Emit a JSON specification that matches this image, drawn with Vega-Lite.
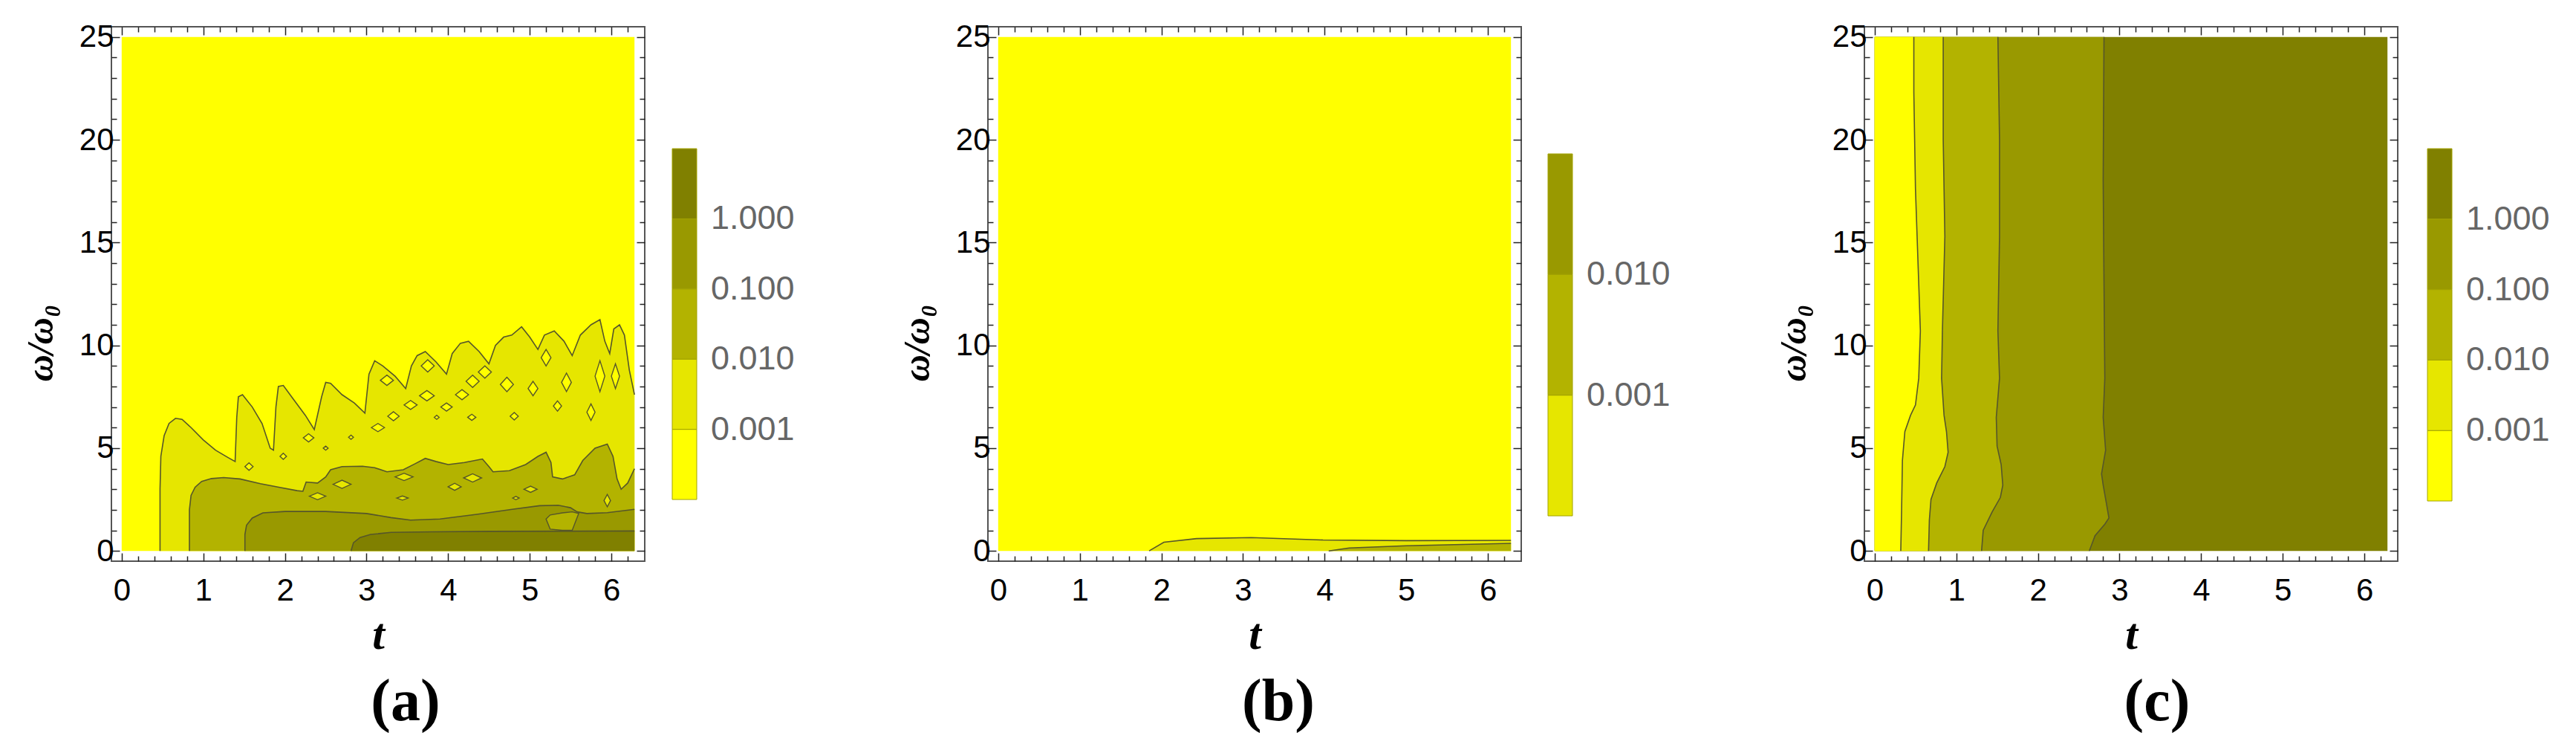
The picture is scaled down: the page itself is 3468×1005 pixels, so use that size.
{
  "$schema": "https://vega.github.io/schema/vega-lite/v6.json",
  "background": "white",
  "padding": {"left": 29, "top": 27, "right": 0, "bottom": 0},
  "spacing": 462,
  "bounds": "flush",
  "config": {
    "view": {"stroke": "#555555", "strokeWidth": 2},
    "axis": {"grid": false, "domain": false, "tickColor": "#222222", "tickWidth": 1.5, "labelOverlap": false, "labelFlush": false, "labelBound": false},
    "legend": {"labelLimit": 400}
  },
  "resolve": {"scale": {"color": "independent"}, "legend": {"color": "independent"}},
  "datasets": {
    "a": [
      {"k":"bg","t":0,"t2":6.2832,"w":25,"w2":0,"lv":-3.5},
      {"k":"r2","i":0,"t":0.47,"w":0,"lv":-2.5},{"k":"r2","i":1,"t":0.47,"w":3.0,"lv":-2.5},{"k":"r2","i":2,"t":0.48,"w":4.6,"lv":-2.5},{"k":"r2","i":3,"t":0.52,"w":5.6,"lv":-2.5},{"k":"r2","i":4,"t":0.58,"w":6.2,"lv":-2.5},{"k":"r2","i":5,"t":0.66,"w":6.45,"lv":-2.5},{"k":"r2","i":6,"t":0.74,"w":6.4,"lv":-2.5},{"k":"r2","i":7,"t":0.85,"w":6.0,"lv":-2.5},{"k":"r2","i":8,"t":1.0,"w":5.4,"lv":-2.5},{"k":"r2","i":9,"t":1.15,"w":4.9,"lv":-2.5},{"k":"r2","i":10,"t":1.3,"w":4.55,"lv":-2.5},{"k":"r2","i":11,"t":1.39,"w":4.35,"lv":-2.5},{"k":"r2","i":12,"t":1.41,"w":6.5,"lv":-2.5},{"k":"r2","i":13,"t":1.43,"w":7.5,"lv":-2.5},{"k":"r2","i":14,"t":1.48,"w":7.6,"lv":-2.5},{"k":"r2","i":15,"t":1.6,"w":7.0,"lv":-2.5},{"k":"r2","i":16,"t":1.72,"w":6.2,"lv":-2.5},{"k":"r2","i":17,"t":1.82,"w":5.0,"lv":-2.5},{"k":"r2","i":18,"t":1.86,"w":4.9,"lv":-2.5},{"k":"r2","i":19,"t":1.89,"w":7.0,"lv":-2.5},{"k":"r2","i":20,"t":1.92,"w":8.0,"lv":-2.5},{"k":"r2","i":21,"t":1.98,"w":8.05,"lv":-2.5},{"k":"r2","i":22,"t":2.1,"w":7.4,"lv":-2.5},{"k":"r2","i":23,"t":2.25,"w":6.6,"lv":-2.5},{"k":"r2","i":24,"t":2.36,"w":5.9,"lv":-2.5},{"k":"r2","i":25,"t":2.45,"w":7.5,"lv":-2.5},{"k":"r2","i":26,"t":2.5,"w":8.2,"lv":-2.5},{"k":"r2","i":27,"t":2.56,"w":8.15,"lv":-2.5},{"k":"r2","i":28,"t":2.7,"w":7.6,"lv":-2.5},{"k":"r2","i":29,"t":2.85,"w":7.2,"lv":-2.5},{"k":"r2","i":30,"t":2.98,"w":6.7,"lv":-2.5},{"k":"r2","i":31,"t":3.03,"w":8.6,"lv":-2.5},{"k":"r2","i":32,"t":3.1,"w":9.25,"lv":-2.5},{"k":"r2","i":33,"t":3.2,"w":9.0,"lv":-2.5},{"k":"r2","i":34,"t":3.35,"w":8.5,"lv":-2.5},{"k":"r2","i":35,"t":3.48,"w":7.9,"lv":-2.5},{"k":"r2","i":36,"t":3.55,"w":9.0,"lv":-2.5},{"k":"r2","i":37,"t":3.62,"w":9.5,"lv":-2.5},{"k":"r2","i":38,"t":3.72,"w":9.7,"lv":-2.5},{"k":"r2","i":39,"t":3.85,"w":9.2,"lv":-2.5},{"k":"r2","i":40,"t":3.98,"w":8.6,"lv":-2.5},{"k":"r2","i":41,"t":4.05,"w":9.6,"lv":-2.5},{"k":"r2","i":42,"t":4.15,"w":10.1,"lv":-2.5},{"k":"r2","i":43,"t":4.25,"w":10.2,"lv":-2.5},{"k":"r2","i":44,"t":4.38,"w":9.7,"lv":-2.5},{"k":"r2","i":45,"t":4.5,"w":9.1,"lv":-2.5},{"k":"r2","i":46,"t":4.58,"w":10.0,"lv":-2.5},{"k":"r2","i":47,"t":4.68,"w":10.4,"lv":-2.5},{"k":"r2","i":48,"t":4.78,"w":10.5,"lv":-2.5},{"k":"r2","i":49,"t":4.9,"w":10.9,"lv":-2.5},{"k":"r2","i":50,"t":5.0,"w":10.4,"lv":-2.5},{"k":"r2","i":51,"t":5.1,"w":9.8,"lv":-2.5},{"k":"r2","i":52,"t":5.18,"w":10.5,"lv":-2.5},{"k":"r2","i":53,"t":5.3,"w":10.7,"lv":-2.5},{"k":"r2","i":54,"t":5.42,"w":10.2,"lv":-2.5},{"k":"r2","i":55,"t":5.52,"w":9.5,"lv":-2.5},{"k":"r2","i":56,"t":5.62,"w":10.5,"lv":-2.5},{"k":"r2","i":57,"t":5.75,"w":11.0,"lv":-2.5},{"k":"r2","i":58,"t":5.86,"w":11.25,"lv":-2.5},{"k":"r2","i":59,"t":5.92,"w":10.2,"lv":-2.5},{"k":"r2","i":60,"t":5.98,"w":9.6,"lv":-2.5},{"k":"r2","i":61,"t":6.03,"w":10.8,"lv":-2.5},{"k":"r2","i":62,"t":6.1,"w":11.0,"lv":-2.5},{"k":"r2","i":63,"t":6.16,"w":10.5,"lv":-2.5},{"k":"r2","i":64,"t":6.22,"w":8.8,"lv":-2.5},{"k":"r2","i":65,"t":6.2832,"w":7.6,"lv":-2.5},
      {"k":"r3","i":0,"t":0.83,"w":0,"lv":-1.5},{"k":"r3","i":1,"t":0.83,"w":2.0,"lv":-1.5},{"k":"r3","i":2,"t":0.85,"w":2.7,"lv":-1.5},{"k":"r3","i":3,"t":0.9,"w":3.1,"lv":-1.5},{"k":"r3","i":4,"t":0.98,"w":3.38,"lv":-1.5},{"k":"r3","i":5,"t":1.1,"w":3.52,"lv":-1.5},{"k":"r3","i":6,"t":1.25,"w":3.57,"lv":-1.5},{"k":"r3","i":7,"t":1.45,"w":3.5,"lv":-1.5},{"k":"r3","i":8,"t":1.7,"w":3.27,"lv":-1.5},{"k":"r3","i":9,"t":1.95,"w":3.08,"lv":-1.5},{"k":"r3","i":10,"t":2.15,"w":2.93,"lv":-1.5},{"k":"r3","i":11,"t":2.22,"w":2.9,"lv":-1.5},{"k":"r3","i":12,"t":2.26,"w":3.35,"lv":-1.5},{"k":"r3","i":13,"t":2.4,"w":3.3,"lv":-1.5},{"k":"r3","i":14,"t":2.5,"w":3.6,"lv":-1.5},{"k":"r3","i":15,"t":2.56,"w":3.95,"lv":-1.5},{"k":"r3","i":16,"t":2.7,"w":4.1,"lv":-1.5},{"k":"r3","i":17,"t":2.95,"w":4.12,"lv":-1.5},{"k":"r3","i":18,"t":3.1,"w":4.05,"lv":-1.5},{"k":"r3","i":19,"t":3.25,"w":3.85,"lv":-1.5},{"k":"r3","i":20,"t":3.45,"w":3.95,"lv":-1.5},{"k":"r3","i":21,"t":3.6,"w":4.25,"lv":-1.5},{"k":"r3","i":22,"t":3.72,"w":4.5,"lv":-1.5},{"k":"r3","i":23,"t":3.85,"w":4.35,"lv":-1.5},{"k":"r3","i":24,"t":4.0,"w":4.2,"lv":-1.5},{"k":"r3","i":25,"t":4.2,"w":4.3,"lv":-1.5},{"k":"r3","i":26,"t":4.42,"w":4.47,"lv":-1.5},{"k":"r3","i":27,"t":4.5,"w":4.1,"lv":-1.5},{"k":"r3","i":28,"t":4.55,"w":3.85,"lv":-1.5},{"k":"r3","i":29,"t":4.75,"w":3.9,"lv":-1.5},{"k":"r3","i":30,"t":4.95,"w":4.2,"lv":-1.5},{"k":"r3","i":31,"t":5.1,"w":4.6,"lv":-1.5},{"k":"r3","i":32,"t":5.2,"w":4.8,"lv":-1.5},{"k":"r3","i":33,"t":5.26,"w":4.3,"lv":-1.5},{"k":"r3","i":34,"t":5.28,"w":3.6,"lv":-1.5},{"k":"r3","i":35,"t":5.4,"w":3.5,"lv":-1.5},{"k":"r3","i":36,"t":5.55,"w":3.7,"lv":-1.5},{"k":"r3","i":37,"t":5.65,"w":4.4,"lv":-1.5},{"k":"r3","i":38,"t":5.8,"w":5.0,"lv":-1.5},{"k":"r3","i":39,"t":5.95,"w":5.2,"lv":-1.5},{"k":"r3","i":40,"t":6.02,"w":4.6,"lv":-1.5},{"k":"r3","i":41,"t":6.07,"w":3.5,"lv":-1.5},{"k":"r3","i":42,"t":6.12,"w":3.0,"lv":-1.5},{"k":"r3","i":43,"t":6.2,"w":3.3,"lv":-1.5},{"k":"r3","i":44,"t":6.2832,"w":4.0,"lv":-1.5},
      {"k":"r4","i":0,"t":1.51,"w":0,"lv":-0.5},{"k":"r4","i":1,"t":1.51,"w":0.8,"lv":-0.5},{"k":"r4","i":2,"t":1.53,"w":1.25,"lv":-0.5},{"k":"r4","i":3,"t":1.6,"w":1.6,"lv":-0.5},{"k":"r4","i":4,"t":1.73,"w":1.85,"lv":-0.5},{"k":"r4","i":5,"t":2.0,"w":1.92,"lv":-0.5},{"k":"r4","i":6,"t":2.5,"w":1.92,"lv":-0.5},{"k":"r4","i":7,"t":3.0,"w":1.82,"lv":-0.5},{"k":"r4","i":8,"t":3.3,"w":1.62,"lv":-0.5},{"k":"r4","i":9,"t":3.54,"w":1.5,"lv":-0.5},{"k":"r4","i":10,"t":3.9,"w":1.55,"lv":-0.5},{"k":"r4","i":11,"t":4.35,"w":1.78,"lv":-0.5},{"k":"r4","i":12,"t":4.8,"w":2.03,"lv":-0.5},{"k":"r4","i":13,"t":5.12,"w":2.2,"lv":-0.5},{"k":"r4","i":14,"t":5.35,"w":2.22,"lv":-0.5},{"k":"r4","i":15,"t":5.5,"w":2.1,"lv":-0.5},{"k":"r4","i":16,"t":5.58,"w":1.9,"lv":-0.5},{"k":"r4","i":17,"t":5.7,"w":1.82,"lv":-0.5},{"k":"r4","i":18,"t":5.95,"w":1.86,"lv":-0.5},{"k":"r4","i":19,"t":6.2832,"w":2.02,"lv":-0.5},
      {"k":"r5","i":0,"t":2.81,"w":0,"lv":0.5},{"k":"r5","i":1,"t":2.84,"w":0.4,"lv":0.5},{"k":"r5","i":2,"t":2.92,"w":0.65,"lv":0.5},{"k":"r5","i":3,"t":3.05,"w":0.8,"lv":0.5},{"k":"r5","i":4,"t":3.3,"w":0.9,"lv":0.5},{"k":"r5","i":5,"t":3.8,"w":0.93,"lv":0.5},{"k":"r5","i":6,"t":4.5,"w":0.95,"lv":0.5},{"k":"r5","i":7,"t":5.5,"w":0.96,"lv":0.5},{"k":"r5","i":8,"t":6.2832,"w":0.97,"lv":0.5},
      {"k":"isl","id":"y1","i":0,"t":1.51,"w":4.1,"w2":4.1,"lv":-3.5},{"k":"isl","id":"y1","i":1,"t":1.56,"w":4.28,"w2":3.92,"lv":-3.5},{"k":"isl","id":"y1","i":2,"t":1.61,"w":4.1,"w2":4.1,"lv":-3.5},
      {"k":"isl","id":"y2","i":0,"t":1.94,"w":4.6,"w2":4.6,"lv":-3.5},{"k":"isl","id":"y2","i":1,"t":1.98,"w":4.75,"w2":4.45,"lv":-3.5},{"k":"isl","id":"y2","i":2,"t":2.02,"w":4.6,"w2":4.6,"lv":-3.5},
      {"k":"isl","id":"y3","i":0,"t":2.225,"w":5.5,"w2":5.5,"lv":-3.5},{"k":"isl","id":"y3","i":1,"t":2.29,"w":5.7,"w2":5.3,"lv":-3.5},{"k":"isl","id":"y3","i":2,"t":2.355,"w":5.5,"w2":5.5,"lv":-3.5},
      {"k":"isl","id":"y4","i":0,"t":3.06,"w":6.0,"w2":6.0,"lv":-3.5},{"k":"isl","id":"y4","i":1,"t":3.14,"w":6.2,"w2":5.8,"lv":-3.5},{"k":"isl","id":"y4","i":2,"t":3.22,"w":6.0,"w2":6.0,"lv":-3.5},
      {"k":"isl","id":"y5","i":0,"t":3.26,"w":6.55,"w2":6.55,"lv":-3.5},{"k":"isl","id":"y5","i":1,"t":3.33,"w":6.77,"w2":6.33,"lv":-3.5},{"k":"isl","id":"y5","i":2,"t":3.4,"w":6.55,"w2":6.55,"lv":-3.5},
      {"k":"isl","id":"y6","i":0,"t":3.46,"w":7.1,"w2":7.1,"lv":-3.5},{"k":"isl","id":"y6","i":1,"t":3.54,"w":7.32,"w2":6.88,"lv":-3.5},{"k":"isl","id":"y6","i":2,"t":3.62,"w":7.1,"w2":7.1,"lv":-3.5},
      {"k":"isl","id":"y7","i":0,"t":3.65,"w":7.55,"w2":7.55,"lv":-3.5},{"k":"isl","id":"y7","i":1,"t":3.74,"w":7.8,"w2":7.3,"lv":-3.5},{"k":"isl","id":"y7","i":2,"t":3.83,"w":7.55,"w2":7.55,"lv":-3.5},
      {"k":"isl","id":"y8","i":0,"t":3.91,"w":7.0,"w2":7.0,"lv":-3.5},{"k":"isl","id":"y8","i":1,"t":3.98,"w":7.2,"w2":6.8,"lv":-3.5},{"k":"isl","id":"y8","i":2,"t":4.05,"w":7.0,"w2":7.0,"lv":-3.5},
      {"k":"isl","id":"y9","i":0,"t":4.09,"w":7.6,"w2":7.6,"lv":-3.5},{"k":"isl","id":"y9","i":1,"t":4.17,"w":7.85,"w2":7.35,"lv":-3.5},{"k":"isl","id":"y9","i":2,"t":4.25,"w":7.6,"w2":7.6,"lv":-3.5},
      {"k":"isl","id":"y10","i":0,"t":4.22,"w":8.25,"w2":8.25,"lv":-3.5},{"k":"isl","id":"y10","i":1,"t":4.3,"w":8.55,"w2":7.95,"lv":-3.5},{"k":"isl","id":"y10","i":2,"t":4.38,"w":8.25,"w2":8.25,"lv":-3.5},
      {"k":"isl","id":"y11","i":0,"t":4.24,"w":6.5,"w2":6.5,"lv":-3.5},{"k":"isl","id":"y11","i":1,"t":4.29,"w":6.65,"w2":6.35,"lv":-3.5},{"k":"isl","id":"y11","i":2,"t":4.34,"w":6.5,"w2":6.5,"lv":-3.5},
      {"k":"isl","id":"y12","i":0,"t":4.64,"w":8.1,"w2":8.1,"lv":-3.5},{"k":"isl","id":"y12","i":1,"t":4.72,"w":8.45,"w2":7.75,"lv":-3.5},{"k":"isl","id":"y12","i":2,"t":4.8,"w":8.1,"w2":8.1,"lv":-3.5},
      {"k":"isl","id":"y13","i":0,"t":4.76,"w":6.55,"w2":6.55,"lv":-3.5},{"k":"isl","id":"y13","i":1,"t":4.81,"w":6.73,"w2":6.37,"lv":-3.5},{"k":"isl","id":"y13","i":2,"t":4.86,"w":6.55,"w2":6.55,"lv":-3.5},
      {"k":"isl","id":"y14","i":0,"t":4.98,"w":7.9,"w2":7.9,"lv":-3.5},{"k":"isl","id":"y14","i":1,"t":5.04,"w":8.25,"w2":7.55,"lv":-3.5},{"k":"isl","id":"y14","i":2,"t":5.1,"w":7.9,"w2":7.9,"lv":-3.5},
      {"k":"isl","id":"y15","i":0,"t":5.29,"w":7.05,"w2":7.05,"lv":-3.5},{"k":"isl","id":"y15","i":1,"t":5.34,"w":7.3,"w2":6.8,"lv":-3.5},{"k":"isl","id":"y15","i":2,"t":5.39,"w":7.05,"w2":7.05,"lv":-3.5},
      {"k":"isl","id":"y16","i":0,"t":5.39,"w":8.2,"w2":8.2,"lv":-3.5},{"k":"isl","id":"y16","i":1,"t":5.45,"w":8.65,"w2":7.75,"lv":-3.5},{"k":"isl","id":"y16","i":2,"t":5.51,"w":8.2,"w2":8.2,"lv":-3.5},
      {"k":"isl","id":"y17","i":0,"t":5.7,"w":6.75,"w2":6.75,"lv":-3.5},{"k":"isl","id":"y17","i":1,"t":5.75,"w":7.15,"w2":6.35,"lv":-3.5},{"k":"isl","id":"y17","i":2,"t":5.8,"w":6.75,"w2":6.75,"lv":-3.5},
      {"k":"isl","id":"y18","i":0,"t":5.8,"w":8.5,"w2":8.5,"lv":-3.5},{"k":"isl","id":"y18","i":1,"t":5.86,"w":9.25,"w2":7.75,"lv":-3.5},{"k":"isl","id":"y18","i":2,"t":5.92,"w":8.5,"w2":8.5,"lv":-3.5},
      {"k":"isl","id":"y19","i":0,"t":3.17,"w":8.3,"w2":8.3,"lv":-3.5},{"k":"isl","id":"y19","i":1,"t":3.25,"w":8.55,"w2":8.05,"lv":-3.5},{"k":"isl","id":"y19","i":2,"t":3.33,"w":8.3,"w2":8.3,"lv":-3.5},
      {"k":"isl","id":"y20","i":0,"t":3.67,"w":9.0,"w2":9.0,"lv":-3.5},{"k":"isl","id":"y20","i":1,"t":3.75,"w":9.3,"w2":8.7,"lv":-3.5},{"k":"isl","id":"y20","i":2,"t":3.83,"w":9.0,"w2":9.0,"lv":-3.5},
      {"k":"isl","id":"y21","i":0,"t":4.37,"w":8.7,"w2":8.7,"lv":-3.5},{"k":"isl","id":"y21","i":1,"t":4.45,"w":9.0,"w2":8.4,"lv":-3.5},{"k":"isl","id":"y21","i":2,"t":4.53,"w":8.7,"w2":8.7,"lv":-3.5},
      {"k":"isl","id":"y22","i":0,"t":5.14,"w":9.4,"w2":9.4,"lv":-3.5},{"k":"isl","id":"y22","i":1,"t":5.2,"w":9.8,"w2":9.0,"lv":-3.5},{"k":"isl","id":"y22","i":2,"t":5.26,"w":9.4,"w2":9.4,"lv":-3.5},
      {"k":"isl","id":"y23","i":0,"t":6.0,"w":8.5,"w2":8.5,"lv":-3.5},{"k":"isl","id":"y23","i":1,"t":6.05,"w":9.1,"w2":7.9,"lv":-3.5},{"k":"isl","id":"y23","i":2,"t":6.1,"w":8.5,"w2":8.5,"lv":-3.5},
      {"k":"isl","id":"y24","i":0,"t":2.47,"w":5.0,"w2":5.0,"lv":-3.5},{"k":"isl","id":"y24","i":1,"t":2.5,"w":5.1,"w2":4.9,"lv":-3.5},{"k":"isl","id":"y24","i":2,"t":2.53,"w":5.0,"w2":5.0,"lv":-3.5},
      {"k":"isl","id":"y25","i":0,"t":2.78,"w":5.53,"w2":5.53,"lv":-3.5},{"k":"isl","id":"y25","i":1,"t":2.81,"w":5.63,"w2":5.43,"lv":-3.5},{"k":"isl","id":"y25","i":2,"t":2.84,"w":5.53,"w2":5.53,"lv":-3.5},
      {"k":"isl","id":"y26","i":0,"t":3.83,"w":6.5,"w2":6.5,"lv":-3.5},{"k":"isl","id":"y26","i":1,"t":3.86,"w":6.6,"w2":6.4,"lv":-3.5},{"k":"isl","id":"y26","i":2,"t":3.89,"w":6.5,"w2":6.5,"lv":-3.5},
      {"k":"isl","id":"g1","i":0,"t":2.59,"w":3.24,"w2":3.24,"lv":-2.5},{"k":"isl","id":"g1","i":1,"t":2.7,"w":3.44,"w2":3.04,"lv":-2.5},{"k":"isl","id":"g1","i":2,"t":2.81,"w":3.24,"w2":3.24,"lv":-2.5},
      {"k":"isl","id":"g2","i":0,"t":2.3,"w":2.66,"w2":2.66,"lv":-2.5},{"k":"isl","id":"g2","i":1,"t":2.4,"w":2.83,"w2":2.49,"lv":-2.5},{"k":"isl","id":"g2","i":2,"t":2.5,"w":2.66,"w2":2.66,"lv":-2.5},
      {"k":"isl","id":"g3","i":0,"t":3.37,"w":2.57,"w2":2.57,"lv":-2.5},{"k":"isl","id":"g3","i":1,"t":3.44,"w":2.67,"w2":2.47,"lv":-2.5},{"k":"isl","id":"g3","i":2,"t":3.51,"w":2.57,"w2":2.57,"lv":-2.5},
      {"k":"isl","id":"g4","i":0,"t":3.35,"w":3.6,"w2":3.6,"lv":-2.5},{"k":"isl","id":"g4","i":1,"t":3.46,"w":3.78,"w2":3.42,"lv":-2.5},{"k":"isl","id":"g4","i":2,"t":3.57,"w":3.6,"w2":3.6,"lv":-2.5},
      {"k":"isl","id":"g5","i":0,"t":4.0,"w":3.12,"w2":3.12,"lv":-2.5},{"k":"isl","id":"g5","i":1,"t":4.08,"w":3.29,"w2":2.95,"lv":-2.5},{"k":"isl","id":"g5","i":2,"t":4.16,"w":3.12,"w2":3.12,"lv":-2.5},
      {"k":"isl","id":"g6","i":0,"t":4.19,"w":3.55,"w2":3.55,"lv":-2.5},{"k":"isl","id":"g6","i":1,"t":4.3,"w":3.75,"w2":3.35,"lv":-2.5},{"k":"isl","id":"g6","i":2,"t":4.41,"w":3.55,"w2":3.55,"lv":-2.5},
      {"k":"isl","id":"g7","i":0,"t":4.93,"w":3.0,"w2":3.0,"lv":-2.5},{"k":"isl","id":"g7","i":1,"t":5.01,"w":3.15,"w2":2.85,"lv":-2.5},{"k":"isl","id":"g7","i":2,"t":5.09,"w":3.0,"w2":3.0,"lv":-2.5},
      {"k":"isl","id":"g8","i":0,"t":4.79,"w":2.57,"w2":2.57,"lv":-2.5},{"k":"isl","id":"g8","i":1,"t":4.83,"w":2.65,"w2":2.49,"lv":-2.5},{"k":"isl","id":"g8","i":2,"t":4.87,"w":2.57,"w2":2.57,"lv":-2.5},
      {"k":"isl","id":"g9","i":0,"t":5.91,"w":2.45,"w2":2.45,"lv":-2.5},{"k":"isl","id":"g9","i":1,"t":5.95,"w":2.75,"w2":2.15,"lv":-2.5},{"k":"isl","id":"g9","i":2,"t":5.99,"w":2.45,"w2":2.45,"lv":-2.5},
      {"k":"isl","id":"h1","i":0,"t":5.2,"w":1.55,"w2":1.55,"lv":-1.5},{"k":"isl","id":"h1","i":1,"t":5.25,"w":1.75,"w2":1.06,"lv":-1.5},{"k":"isl","id":"h1","i":2,"t":5.4,"w":1.85,"w2":1.0,"lv":-1.5},{"k":"isl","id":"h1","i":3,"t":5.52,"w":1.9,"w2":1.0,"lv":-1.5},{"k":"isl","id":"h1","i":4,"t":5.6,"w":1.82,"w2":1.82,"lv":-1.5}
    ],
    "b": [
      {"k":"bg","t":0,"t2":6.2832,"w":25,"w2":0},
      {"k":"rA","i":0,"t":1.85,"w":0,"lv":-3.5},{"k":"rA","i":1,"t":2.03,"w":0.42,"lv":-3.5},{"k":"rA","i":2,"t":2.43,"w":0.6,"lv":-3.5},{"k":"rA","i":3,"t":3.1,"w":0.65,"lv":-3.5},{"k":"rA","i":4,"t":3.98,"w":0.53,"lv":-3.5},{"k":"rA","i":5,"t":5.0,"w":0.5,"lv":-3.5},{"k":"rA","i":6,"t":6.2832,"w":0.51,"lv":-3.5},
      {"k":"rB","i":0,"t":4.05,"w":0,"lv":-2.5},{"k":"rB","i":1,"t":4.3,"w":0.14,"lv":-2.5},{"k":"rB","i":2,"t":5.0,"w":0.25,"lv":-2.5},{"k":"rB","i":3,"t":6.2832,"w":0.37,"lv":-2.5}
    ],
    "c": [
      {"k":"bg","t":0,"t2":6.2832,"w":25,"w2":0,"lv":0.5},
      {"k":"c2","i":0,"t":0.32,"w":0,"lv":-3.5},{"k":"c2","i":1,"t":0.33,"w":2,"lv":-3.5},{"k":"c2","i":2,"t":0.34,"w":4.4,"lv":-3.5},{"k":"c2","i":3,"t":0.37,"w":5.8,"lv":-3.5},{"k":"c2","i":4,"t":0.44,"w":6.6,"lv":-3.5},{"k":"c2","i":5,"t":0.5,"w":7.1,"lv":-3.5},{"k":"c2","i":6,"t":0.54,"w":8.4,"lv":-3.5},{"k":"c2","i":7,"t":0.56,"w":10.7,"lv":-3.5},{"k":"c2","i":8,"t":0.54,"w":13,"lv":-3.5},{"k":"c2","i":9,"t":0.5,"w":17.6,"lv":-3.5},{"k":"c2","i":10,"t":0.48,"w":22.3,"lv":-3.5},{"k":"c2","i":11,"t":0.48,"w":25,"lv":-3.5},
      {"k":"c3","i":0,"t":0.66,"w":0,"lv":-2.5},{"k":"c3","i":1,"t":0.67,"w":1.5,"lv":-2.5},{"k":"c3","i":2,"t":0.69,"w":2.5,"lv":-2.5},{"k":"c3","i":3,"t":0.76,"w":3.3,"lv":-2.5},{"k":"c3","i":4,"t":0.86,"w":4.1,"lv":-2.5},{"k":"c3","i":5,"t":0.9,"w":4.8,"lv":-2.5},{"k":"c3","i":6,"t":0.88,"w":5.8,"lv":-2.5},{"k":"c3","i":7,"t":0.85,"w":6.6,"lv":-2.5},{"k":"c3","i":8,"t":0.82,"w":8.4,"lv":-2.5},{"k":"c3","i":9,"t":0.83,"w":10.7,"lv":-2.5},{"k":"c3","i":10,"t":0.86,"w":15.3,"lv":-2.5},{"k":"c3","i":11,"t":0.84,"w":20,"lv":-2.5},{"k":"c3","i":12,"t":0.84,"w":25,"lv":-2.5},
      {"k":"c4","i":0,"t":1.31,"w":0,"lv":-1.5},{"k":"c4","i":1,"t":1.33,"w":1.0,"lv":-1.5},{"k":"c4","i":2,"t":1.44,"w":1.9,"lv":-1.5},{"k":"c4","i":3,"t":1.54,"w":2.6,"lv":-1.5},{"k":"c4","i":4,"t":1.57,"w":3.2,"lv":-1.5},{"k":"c4","i":5,"t":1.55,"w":4.2,"lv":-1.5},{"k":"c4","i":6,"t":1.5,"w":5.1,"lv":-1.5},{"k":"c4","i":7,"t":1.49,"w":6.5,"lv":-1.5},{"k":"c4","i":8,"t":1.53,"w":8.4,"lv":-1.5},{"k":"c4","i":9,"t":1.51,"w":10.7,"lv":-1.5},{"k":"c4","i":10,"t":1.53,"w":15.3,"lv":-1.5},{"k":"c4","i":11,"t":1.53,"w":20,"lv":-1.5},{"k":"c4","i":12,"t":1.51,"w":25,"lv":-1.5},
      {"k":"c5","i":0,"t":2.63,"w":0,"lv":-0.5},{"k":"c5","i":1,"t":2.7,"w":0.74,"lv":-0.5},{"k":"c5","i":2,"t":2.82,"w":1.3,"lv":-0.5},{"k":"c5","i":3,"t":2.87,"w":1.6,"lv":-0.5},{"k":"c5","i":4,"t":2.84,"w":2.3,"lv":-0.5},{"k":"c5","i":5,"t":2.8,"w":3.2,"lv":-0.5},{"k":"c5","i":6,"t":2.78,"w":3.75,"lv":-0.5},{"k":"c5","i":7,"t":2.83,"w":4.9,"lv":-0.5},{"k":"c5","i":8,"t":2.8,"w":6.5,"lv":-0.5},{"k":"c5","i":9,"t":2.82,"w":8.4,"lv":-0.5},{"k":"c5","i":10,"t":2.81,"w":13,"lv":-0.5},{"k":"c5","i":11,"t":2.8,"w":18,"lv":-0.5},{"k":"c5","i":12,"t":2.81,"w":25,"lv":-0.5}
    ]
  },
  "hconcat": [
    {
      "width": 718, "height": 719,
      "data": {"name": "a"},
      "title": {"text": "(a)", "orient": "bottom", "anchor": "middle", "frame": "group", "dx": 37, "offset": 22, "font": "Liberation Serif", "fontSize": 80, "fontWeight": "bold", "color": "#000000"},
      "resolve": {"axis": {"x": "independent", "y": "independent"}},
      "layer": [
        {
          "transform": [{"filter": "datum.k == 'bg'"}],
          "mark": {"type": "rect"},
          "encoding": {
            "x": {"field": "t", "type": "quantitative", "scale": {"domain": [-0.1257, 6.409], "nice": false, "zero": false},
              "axis": {"orient": "bottom", "values": [0,0.2,0.4,0.6,0.8,1,1.2,1.4,1.6,1.8,2,2.2,2.4,2.6,2.8,3,3.2,3.4,3.6,3.8,4,4.2,4.4,4.6,4.8,5,5.2,5.4,5.6,5.8,6,6.2],
                "tickSize": {"condition": {"test": "datum.value % 1 === 0", "value": -11}, "value": -7},
                "labelExpr": "datum.value % 1 === 0 ? format(datum.value, 'd') : ''",
                "labelFontSize": 42, "labelFont": "Liberation Sans", "labelColor": "#000000", "labelPadding": 30,
                "title": "t", "titleFont": "Liberation Serif", "titleFontStyle": "italic", "titleFontWeight": "bold", "titleFontSize": 60, "titleColor": "#000000", "titlePadding": 6, "titleAlign": "center"}},
            "x2": {"field": "t2"},
            "y": {"field": "w", "type": "quantitative", "scale": {"domain": [-0.5, 25.5], "nice": false, "zero": false},
              "axis": {"orient": "left", "values": [0,1,2,3,4,5,6,7,8,9,10,11,12,13,14,15,16,17,18,19,20,21,22,23,24,25],
                "tickSize": {"condition": {"test": "datum.value % 5 === 0", "value": -11}, "value": -7},
                "labelExpr": "datum.value % 5 === 0 ? format(datum.value, 'd') : ''",
                "labelFontSize": 42, "labelFont": "Liberation Sans", "labelColor": "#000000", "labelPadding": 8,
                "title": "ω/ω₀", "titleFont": "Liberation Serif", "titleFontStyle": "italic", "titleFontWeight": "bold", "titleFontSize": 50, "titleColor": "#000000", "titlePadding": 26, "titleAlign": "center", "titleAngle": -90, "titleY": 425}},
            "y2": {"field": "w2"},
            "color": {"field": "lv", "type": "quantitative",
              "scale": {"type": "threshold", "domain": [-3, -2, -1, 0], "range": ["#ffff00", "#e6e600", "#b3b300", "#999900", "#808000"]},
              "legend": {"type": "gradient", "direction": "vertical", "orient": "none", "legendX": 755, "legendY": 164, "padding": 0, "title": null,
                "gradientLength": 472, "gradientThickness": 33, "gradientStrokeColor": "#a3a300", "gradientStrokeWidth": 1,
                "labelFontSize": 45, "labelFont": "Liberation Sans", "labelColor": "#666666", "labelOffset": 19,
                "labelExpr": "datum.value < -3.5 ? '' : format(pow(10, datum.value), '.3f')"}}
          }
        },
        {
          "transform": [{"filter": "datum.k == 'r2'"}],
          "mark": {"type": "area"},
          "encoding": {
            "x": {"field": "t", "type": "quantitative", "scale": {"domain": [-0.1257, 6.409], "nice": false, "zero": false},
              "axis": {"orient": "top", "values": [0,0.2,0.4,0.6,0.8,1,1.2,1.4,1.6,1.8,2,2.2,2.4,2.6,2.8,3,3.2,3.4,3.6,3.8,4,4.2,4.4,4.6,4.8,5,5.2,5.4,5.6,5.8,6,6.2],
                "tickSize": {"condition": {"test": "datum.value % 1 === 0", "value": -11}, "value": -7}, "labels": false, "title": null}},
            "y": {"field": "w", "type": "quantitative", "stack": null, "scale": {"domain": [-0.5, 25.5], "nice": false, "zero": false},
              "axis": {"orient": "right", "values": [0,1,2,3,4,5,6,7,8,9,10,11,12,13,14,15,16,17,18,19,20,21,22,23,24,25],
                "tickSize": {"condition": {"test": "datum.value % 5 === 0", "value": -11}, "value": -7}, "labels": false, "title": null}},
            "color": {"field": "lv", "type": "quantitative", "scale": {"type": "threshold", "domain": [-3, -2, -1, 0], "range": ["#ffff00", "#e6e600", "#b3b300", "#999900", "#808000"]}}
          }
        },
        {
          "transform": [{"filter": "datum.k == 'r3'"}],
          "mark": {"type": "area"},
          "encoding": {
            "x": {"field": "t", "type": "quantitative", "scale": {"domain": [-0.1257, 6.409], "nice": false, "zero": false}, "axis": null},
            "y": {"field": "w", "type": "quantitative", "stack": null, "scale": {"domain": [-0.5, 25.5], "nice": false, "zero": false}, "axis": null},
            "color": {"field": "lv", "type": "quantitative", "scale": {"type": "threshold", "domain": [-3, -2, -1, 0], "range": ["#ffff00", "#e6e600", "#b3b300", "#999900", "#808000"]}}
          }
        },
        {
          "transform": [{"filter": "datum.k == 'r4'"}],
          "mark": {"type": "area"},
          "encoding": {
            "x": {"field": "t", "type": "quantitative", "scale": {"domain": [-0.1257, 6.409], "nice": false, "zero": false}, "axis": null},
            "y": {"field": "w", "type": "quantitative", "stack": null, "scale": {"domain": [-0.5, 25.5], "nice": false, "zero": false}, "axis": null},
            "color": {"field": "lv", "type": "quantitative", "scale": {"type": "threshold", "domain": [-3, -2, -1, 0], "range": ["#ffff00", "#e6e600", "#b3b300", "#999900", "#808000"]}}
          }
        },
        {
          "transform": [{"filter": "datum.k == 'r5'"}],
          "mark": {"type": "area"},
          "encoding": {
            "x": {"field": "t", "type": "quantitative", "scale": {"domain": [-0.1257, 6.409], "nice": false, "zero": false}, "axis": null},
            "y": {"field": "w", "type": "quantitative", "stack": null, "scale": {"domain": [-0.5, 25.5], "nice": false, "zero": false}, "axis": null},
            "color": {"field": "lv", "type": "quantitative", "scale": {"type": "threshold", "domain": [-3, -2, -1, 0], "range": ["#ffff00", "#e6e600", "#b3b300", "#999900", "#808000"]}}
          }
        },
        {
          "transform": [{"filter": "datum.k == 'r2' || datum.k == 'r3' || datum.k == 'r4' || datum.k == 'r5'"}],
          "mark": {"type": "line", "color": "#56562a", "strokeWidth": 1.6},
          "encoding": {
            "x": {"field": "t", "type": "quantitative", "scale": {"domain": [-0.1257, 6.409], "nice": false, "zero": false}, "axis": null},
            "y": {"field": "w", "type": "quantitative", "scale": {"domain": [-0.5, 25.5], "nice": false, "zero": false}, "axis": null},
            "detail": {"field": "k"},
            "order": {"field": "i"}
          }
        },
        {
          "transform": [{"filter": "datum.k == 'isl'"}],
          "mark": {"type": "area", "stroke": "#56562a", "strokeWidth": 1.4},
          "encoding": {
            "x": {"field": "t", "type": "quantitative", "scale": {"domain": [-0.1257, 6.409], "nice": false, "zero": false}, "axis": null},
            "y": {"field": "w", "type": "quantitative", "scale": {"domain": [-0.5, 25.5], "nice": false, "zero": false}, "axis": null},
            "y2": {"field": "w2"},
            "detail": {"field": "id"},
            "color": {"field": "lv", "type": "quantitative", "scale": {"type": "threshold", "domain": [-3, -2, -1, 0], "range": ["#ffff00", "#e6e600", "#b3b300", "#999900", "#808000"]}}
          }
        }
      ]
    },
    {
      "width": 718, "height": 719,
      "data": {"name": "b"},
      "title": {"text": "(b)", "orient": "bottom", "anchor": "middle", "frame": "group", "dx": 32, "offset": 22, "font": "Liberation Serif", "fontSize": 80, "fontWeight": "bold", "color": "#000000"},
      "resolve": {"axis": {"x": "independent", "y": "independent"}},
      "layer": [
        {
          "transform": [{"filter": "datum.k == 'bg'"}],
          "mark": {"type": "rect", "color": "#ffff00"},
          "encoding": {
            "x": {"field": "t", "type": "quantitative", "scale": {"domain": [-0.1257, 6.409], "nice": false, "zero": false},
              "axis": {"orient": "bottom", "values": [0,0.2,0.4,0.6,0.8,1,1.2,1.4,1.6,1.8,2,2.2,2.4,2.6,2.8,3,3.2,3.4,3.6,3.8,4,4.2,4.4,4.6,4.8,5,5.2,5.4,5.6,5.8,6,6.2],
                "tickSize": {"condition": {"test": "datum.value % 1 === 0", "value": -11}, "value": -7},
                "labelExpr": "datum.value % 1 === 0 ? format(datum.value, 'd') : ''",
                "labelFontSize": 42, "labelFont": "Liberation Sans", "labelColor": "#000000", "labelPadding": 30,
                "title": "t", "titleFont": "Liberation Serif", "titleFontStyle": "italic", "titleFontWeight": "bold", "titleFontSize": 60, "titleColor": "#000000", "titlePadding": 6, "titleAlign": "center"}},
            "x2": {"field": "t2"},
            "y": {"field": "w", "type": "quantitative", "scale": {"domain": [-0.5, 25.5], "nice": false, "zero": false},
              "axis": {"orient": "left", "values": [0,1,2,3,4,5,6,7,8,9,10,11,12,13,14,15,16,17,18,19,20,21,22,23,24,25],
                "tickSize": {"condition": {"test": "datum.value % 5 === 0", "value": -11}, "value": -7},
                "labelExpr": "datum.value % 5 === 0 ? format(datum.value, 'd') : ''",
                "labelFontSize": 42, "labelFont": "Liberation Sans", "labelColor": "#000000", "labelPadding": 8,
                "title": "ω/ω₀", "titleFont": "Liberation Serif", "titleFontStyle": "italic", "titleFontWeight": "bold", "titleFontSize": 50, "titleColor": "#000000", "titlePadding": 26, "titleAlign": "center", "titleAngle": -90, "titleY": 425}},
            "y2": {"field": "w2"}
          }
        },
        {
          "transform": [{"filter": "datum.k == 'rA'"}],
          "mark": {"type": "area"},
          "encoding": {
            "x": {"field": "t", "type": "quantitative", "scale": {"domain": [-0.1257, 6.409], "nice": false, "zero": false},
              "axis": {"orient": "top", "values": [0,0.2,0.4,0.6,0.8,1,1.2,1.4,1.6,1.8,2,2.2,2.4,2.6,2.8,3,3.2,3.4,3.6,3.8,4,4.2,4.4,4.6,4.8,5,5.2,5.4,5.6,5.8,6,6.2],
                "tickSize": {"condition": {"test": "datum.value % 1 === 0", "value": -11}, "value": -7}, "labels": false, "title": null}},
            "y": {"field": "w", "type": "quantitative", "stack": null, "scale": {"domain": [-0.5, 25.5], "nice": false, "zero": false},
              "axis": {"orient": "right", "values": [0,1,2,3,4,5,6,7,8,9,10,11,12,13,14,15,16,17,18,19,20,21,22,23,24,25],
                "tickSize": {"condition": {"test": "datum.value % 5 === 0", "value": -11}, "value": -7}, "labels": false, "title": null}},
            "color": {"field": "lv", "type": "quantitative",
              "scale": {"type": "threshold", "domain": [-3, -2], "range": ["#e6e600", "#b3b300", "#999900"]},
              "legend": {"type": "gradient", "direction": "vertical", "orient": "none", "legendX": 754, "legendY": 171, "padding": 0, "title": null,
                "gradientLength": 487, "gradientThickness": 33, "gradientStrokeColor": "#a3a300", "gradientStrokeWidth": 1,
                "labelFontSize": 45, "labelFont": "Liberation Sans", "labelColor": "#666666", "labelOffset": 19,
                "labelExpr": "datum.value < -3.5 ? '' : format(pow(10, datum.value), '.3f')"}}
          }
        },
        {
          "transform": [{"filter": "datum.k == 'rB'"}],
          "mark": {"type": "area"},
          "encoding": {
            "x": {"field": "t", "type": "quantitative", "scale": {"domain": [-0.1257, 6.409], "nice": false, "zero": false}, "axis": null},
            "y": {"field": "w", "type": "quantitative", "stack": null, "scale": {"domain": [-0.5, 25.5], "nice": false, "zero": false}, "axis": null},
            "color": {"field": "lv", "type": "quantitative", "scale": {"type": "threshold", "domain": [-3, -2], "range": ["#e6e600", "#b3b300", "#999900"]}}
          }
        },
        {
          "transform": [{"filter": "datum.k == 'rA' || datum.k == 'rB'"}],
          "mark": {"type": "line", "color": "#56562a", "strokeWidth": 1.6},
          "encoding": {
            "x": {"field": "t", "type": "quantitative", "scale": {"domain": [-0.1257, 6.409], "nice": false, "zero": false}, "axis": null},
            "y": {"field": "w", "type": "quantitative", "scale": {"domain": [-0.5, 25.5], "nice": false, "zero": false}, "axis": null},
            "detail": {"field": "k"},
            "order": {"field": "i"}
          }
        }
      ]
    },
    {
      "width": 718, "height": 719,
      "data": {"name": "c"},
      "title": {"text": "(c)", "orient": "bottom", "anchor": "middle", "frame": "group", "dx": 35, "offset": 22, "font": "Liberation Serif", "fontSize": 80, "fontWeight": "bold", "color": "#000000"},
      "resolve": {"axis": {"x": "independent", "y": "independent"}},
      "layer": [
        {
          "transform": [{"filter": "datum.k == 'bg'"}],
          "mark": {"type": "rect"},
          "encoding": {
            "x": {"field": "t", "type": "quantitative", "scale": {"domain": [-0.1257, 6.409], "nice": false, "zero": false},
              "axis": {"orient": "bottom", "values": [0,0.2,0.4,0.6,0.8,1,1.2,1.4,1.6,1.8,2,2.2,2.4,2.6,2.8,3,3.2,3.4,3.6,3.8,4,4.2,4.4,4.6,4.8,5,5.2,5.4,5.6,5.8,6,6.2],
                "tickSize": {"condition": {"test": "datum.value % 1 === 0", "value": -11}, "value": -7},
                "labelExpr": "datum.value % 1 === 0 ? format(datum.value, 'd') : ''",
                "labelFontSize": 42, "labelFont": "Liberation Sans", "labelColor": "#000000", "labelPadding": 30,
                "title": "t", "titleFont": "Liberation Serif", "titleFontStyle": "italic", "titleFontWeight": "bold", "titleFontSize": 60, "titleColor": "#000000", "titlePadding": 6, "titleAlign": "center"}},
            "x2": {"field": "t2"},
            "y": {"field": "w", "type": "quantitative", "scale": {"domain": [-0.5, 25.5], "nice": false, "zero": false},
              "axis": {"orient": "left", "values": [0,1,2,3,4,5,6,7,8,9,10,11,12,13,14,15,16,17,18,19,20,21,22,23,24,25],
                "tickSize": {"condition": {"test": "datum.value % 5 === 0", "value": -11}, "value": -7},
                "labelExpr": "datum.value % 5 === 0 ? format(datum.value, 'd') : ''",
                "labelFontSize": 42, "labelFont": "Liberation Sans", "labelColor": "#000000", "labelPadding": 8,
                "title": "ω/ω₀", "titleFont": "Liberation Serif", "titleFontStyle": "italic", "titleFontWeight": "bold", "titleFontSize": 50, "titleColor": "#000000", "titlePadding": 26, "titleAlign": "center", "titleAngle": -90, "titleY": 425}},
            "y2": {"field": "w2"},
            "color": {"field": "lv", "type": "quantitative",
              "scale": {"type": "threshold", "domain": [-3, -2, -1, 0], "range": ["#ffff00", "#e6e600", "#b3b300", "#999900", "#808000"]},
              "legend": {"type": "gradient", "direction": "vertical", "orient": "none", "legendX": 758, "legendY": 164, "padding": 0, "title": null,
                "gradientLength": 474, "gradientThickness": 33, "gradientStrokeColor": "#a3a300", "gradientStrokeWidth": 1,
                "labelFontSize": 45, "labelFont": "Liberation Sans", "labelColor": "#666666", "labelOffset": 19,
                "labelExpr": "datum.value < -3.5 ? '' : format(pow(10, datum.value), '.3f')"}}
          }
        },
        {
          "transform": [{"filter": "datum.k == 'c5'"}],
          "mark": {"type": "area", "orient": "horizontal"},
          "encoding": {
            "x": {"field": "t", "type": "quantitative", "stack": null, "scale": {"domain": [-0.1257, 6.409], "nice": false, "zero": false},
              "axis": {"orient": "top", "values": [0,0.2,0.4,0.6,0.8,1,1.2,1.4,1.6,1.8,2,2.2,2.4,2.6,2.8,3,3.2,3.4,3.6,3.8,4,4.2,4.4,4.6,4.8,5,5.2,5.4,5.6,5.8,6,6.2],
                "tickSize": {"condition": {"test": "datum.value % 1 === 0", "value": -11}, "value": -7}, "labels": false, "title": null}},
            "y": {"field": "w", "type": "quantitative", "scale": {"domain": [-0.5, 25.5], "nice": false, "zero": false},
              "axis": {"orient": "right", "values": [0,1,2,3,4,5,6,7,8,9,10,11,12,13,14,15,16,17,18,19,20,21,22,23,24,25],
                "tickSize": {"condition": {"test": "datum.value % 5 === 0", "value": -11}, "value": -7}, "labels": false, "title": null}},
            "color": {"field": "lv", "type": "quantitative", "scale": {"type": "threshold", "domain": [-3, -2, -1, 0], "range": ["#ffff00", "#e6e600", "#b3b300", "#999900", "#808000"]}}
          }
        },
        {
          "transform": [{"filter": "datum.k == 'c4'"}],
          "mark": {"type": "area", "orient": "horizontal"},
          "encoding": {
            "x": {"field": "t", "type": "quantitative", "stack": null, "scale": {"domain": [-0.1257, 6.409], "nice": false, "zero": false}, "axis": null},
            "y": {"field": "w", "type": "quantitative", "scale": {"domain": [-0.5, 25.5], "nice": false, "zero": false}, "axis": null},
            "color": {"field": "lv", "type": "quantitative", "scale": {"type": "threshold", "domain": [-3, -2, -1, 0], "range": ["#ffff00", "#e6e600", "#b3b300", "#999900", "#808000"]}}
          }
        },
        {
          "transform": [{"filter": "datum.k == 'c3'"}],
          "mark": {"type": "area", "orient": "horizontal"},
          "encoding": {
            "x": {"field": "t", "type": "quantitative", "stack": null, "scale": {"domain": [-0.1257, 6.409], "nice": false, "zero": false}, "axis": null},
            "y": {"field": "w", "type": "quantitative", "scale": {"domain": [-0.5, 25.5], "nice": false, "zero": false}, "axis": null},
            "color": {"field": "lv", "type": "quantitative", "scale": {"type": "threshold", "domain": [-3, -2, -1, 0], "range": ["#ffff00", "#e6e600", "#b3b300", "#999900", "#808000"]}}
          }
        },
        {
          "transform": [{"filter": "datum.k == 'c2'"}],
          "mark": {"type": "area", "orient": "horizontal"},
          "encoding": {
            "x": {"field": "t", "type": "quantitative", "stack": null, "scale": {"domain": [-0.1257, 6.409], "nice": false, "zero": false}, "axis": null},
            "y": {"field": "w", "type": "quantitative", "scale": {"domain": [-0.5, 25.5], "nice": false, "zero": false}, "axis": null},
            "color": {"field": "lv", "type": "quantitative", "scale": {"type": "threshold", "domain": [-3, -2, -1, 0], "range": ["#ffff00", "#e6e600", "#b3b300", "#999900", "#808000"]}}
          }
        },
        {
          "transform": [{"filter": "datum.k != 'bg'"}],
          "mark": {"type": "line", "color": "#56562a", "strokeWidth": 1.6},
          "encoding": {
            "x": {"field": "t", "type": "quantitative", "scale": {"domain": [-0.1257, 6.409], "nice": false, "zero": false}, "axis": null},
            "y": {"field": "w", "type": "quantitative", "scale": {"domain": [-0.5, 25.5], "nice": false, "zero": false}, "axis": null},
            "detail": {"field": "k"},
            "order": {"field": "i"}
          }
        }
      ]
    }
  ]
}
